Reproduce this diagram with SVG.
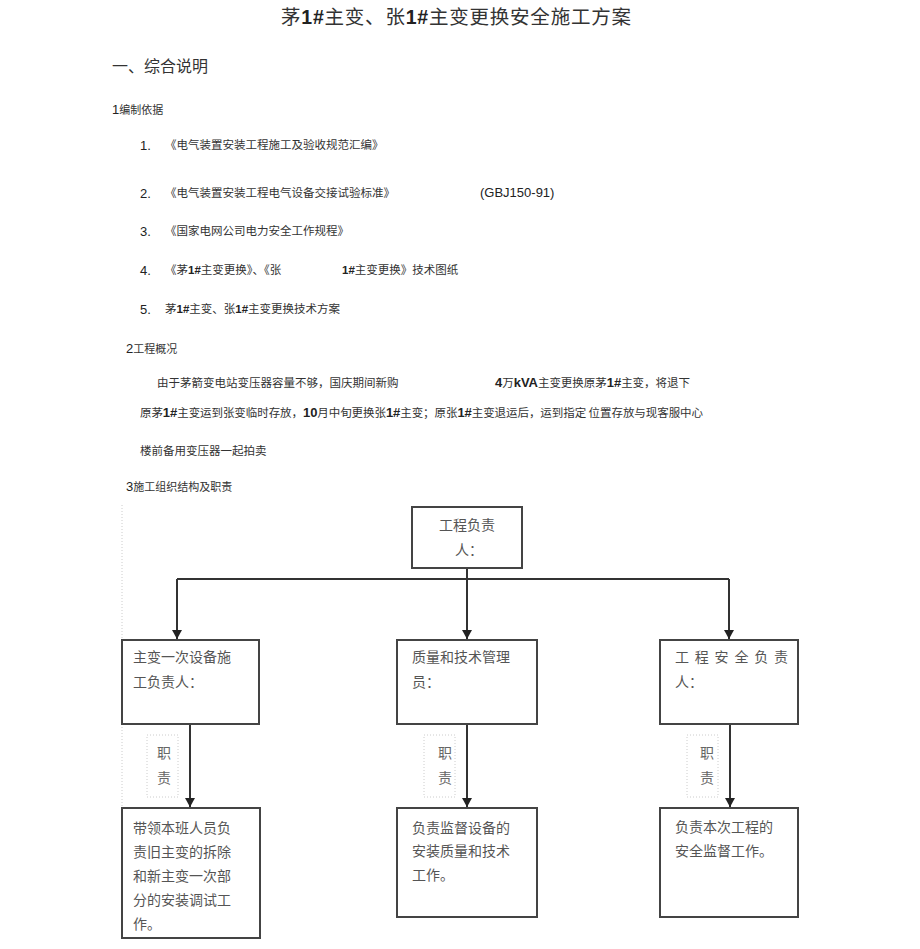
<svg xmlns="http://www.w3.org/2000/svg" width="920" height="949" viewBox="0 0 920 949">
<style>
text{font-family:"Noto Sans CJK SC","Liberation Sans",sans-serif;fill:#333}
.lat{font-family:"Liberation Sans","Noto Sans CJK SC",sans-serif;font-weight:bold;fill:#222}
.body{font-size:11.5px}
.num{font-family:"Liberation Sans",sans-serif;font-size:13px;fill:#222}
.bx{fill:#fff;stroke:#444;stroke-width:2}
.bt{font-size:14px;fill:#555}
.lbl{fill:none;stroke:#ccc;stroke-width:1;stroke-dasharray:1 2}
.lt{font-size:14px;fill:#666}
.conn{stroke:#333;stroke-width:2;fill:none}
</style>
<defs>
<marker id="ah" markerWidth="10" markerHeight="10" refX="9" refY="5" orient="auto" markerUnits="userSpaceOnUse">
<path d="M0,0 L9,5 L0,10 Z" fill="#222"/>
</marker>
</defs>
<rect width="920" height="949" fill="#fff"/>

<g id="header">
<text x="281" y="24" font-size="19.5" fill="#222" textLength="350" lengthAdjust="spacing">茅<tspan class="lat">1#</tspan>主变、张<tspan class="lat">1#</tspan>主变更换安全施工方案</text>
<text x="112" y="72" font-size="16">一、综合说明</text>
<text x="112" y="114" font-size="11"><tspan class="num">1</tspan>编制依据</text>
<text class="num" x="140" y="150">1.</text>
<text class="body" x="165" y="149">《电气装置安装工程施工及验收规范汇编》</text>
<text class="num" x="140" y="198">2.</text>
<text class="body" x="165" y="197">《电气装置安装工程电气设备交接试验标准》</text>
<text class="num" x="480" y="197" font-size="14">(GBJ150-91)</text>
<text class="num" x="140" y="236">3.</text>
<text class="body" x="165" y="235">《国家电网公司电力安全工作规程》</text>
<text class="num" x="140" y="275">4.</text>
<text class="body" x="165" y="274">《茅<tspan class="lat">1#</tspan>主变更换》、《张</text>
<text class="body" x="342" y="274"><tspan class="lat">1#</tspan>主变更换》技术图纸</text>
<text class="num" x="140" y="314">5.</text>
<text class="body" x="165" y="313">茅<tspan class="lat">1#</tspan>主变、张<tspan class="lat">1#</tspan>主变更换技术方案</text>
<text x="126" y="353" font-size="11"><tspan class="num">2</tspan>工程概况</text>
<text class="body" x="157" y="387">由于茅箭变电站变压器容量不够，国庆期间新购</text>
<text class="body" x="495" y="387" textLength="195"><tspan class="lat" font-size="13">4</tspan>万<tspan class="lat" font-size="13">kVA</tspan>主变更换原茅<tspan class="lat" font-size="13">1#</tspan>主变，将退下</text>
<text class="body" x="140" y="417" textLength="563" lengthAdjust="spacing">原茅<tspan class="lat" font-size="13">1#</tspan>主变运到张变临时存放，<tspan class="lat" font-size="13">10</tspan>月中旬更换张<tspan class="lat" font-size="13">1#</tspan>主变；原张<tspan class="lat" font-size="13">1#</tspan>主变退运后，运到指定 位置存放与现客服中心</text>
<text class="body" x="140" y="455">楼前备用变压器一起拍卖</text>
<text x="126" y="491" font-size="11"><tspan class="num">3</tspan>施工组织结构及职责</text>
</g>

<line x1="122" y1="505" x2="122" y2="940" stroke="#ccc" stroke-width="1" stroke-dasharray="1 2"/>

<g id="connectors">
<path class="conn" d="M467,568 V639" marker-end="url(#ah)"/>
<path class="conn" d="M177,579 H729"/>
<path class="conn" d="M177,579 V639" marker-end="url(#ah)"/>
<path class="conn" d="M729,579 V639" marker-end="url(#ah)"/>
<path class="conn" d="M190,724 V807" marker-end="url(#ah)"/>
<path class="conn" d="M467,724 V807" marker-end="url(#ah)"/>
<path class="conn" d="M730,724 V807" marker-end="url(#ah)"/>
</g>

<g id="node-top">
<rect class="bx" x="412" y="507" width="110" height="61"/>
<text class="bt" x="467" y="530" text-anchor="middle">工程负责</text>
<text class="bt" x="469" y="555" text-anchor="middle">人：</text>
</g>

<g id="node-left">
<rect class="bx" x="122" y="640" width="137" height="84"/>
<text class="bt" x="133" y="662">主变一次设备施</text>
<text class="bt" x="133" y="687">工负责人：</text>
</g>

<g id="node-mid">
<rect class="bx" x="397" y="640" width="140" height="84"/>
<text class="bt" x="412" y="662">质量和技术管理</text>
<text class="bt" x="412" y="687">员：</text>
</g>

<g id="node-right">
<rect class="bx" x="660" y="640" width="138" height="84"/>
<text class="bt" x="675" y="662" textLength="113" lengthAdjust="spacing">工程安全负责</text>
<text class="bt" x="675" y="687">人：</text>
</g>

<g id="label-left">
<rect class="lbl" x="147" y="735" width="31" height="62"/>
<text class="lt" x="164" y="758" text-anchor="middle">职</text>
<text class="lt" x="164" y="783" text-anchor="middle">责</text>
</g>
<g id="label-mid">
<rect class="lbl" x="424" y="735" width="31" height="62"/>
<text class="lt" x="445" y="758" text-anchor="middle">职</text>
<text class="lt" x="445" y="783" text-anchor="middle">责</text>
</g>
<g id="label-right">
<rect class="lbl" x="687" y="735" width="31" height="62"/>
<text class="lt" x="707" y="758" text-anchor="middle">职</text>
<text class="lt" x="707" y="783" text-anchor="middle">责</text>
</g>

<g id="duty-left">
<rect class="bx" x="122" y="808" width="138" height="130"/>
<text class="bt" x="133" y="833">带领本班人员负</text>
<text class="bt" x="133" y="857">责旧主变的拆除</text>
<text class="bt" x="133" y="881">和新主变一次部</text>
<text class="bt" x="133" y="905">分的安装调试工</text>
<text class="bt" x="133" y="929">作。</text>
</g>

<g id="duty-mid">
<rect class="bx" x="397" y="808" width="140" height="109"/>
<text class="bt" x="412" y="833">负责监督设备的</text>
<text class="bt" x="412" y="856">安装质量和技术</text>
<text class="bt" x="412" y="880">工作。</text>
</g>

<g id="duty-right">
<rect class="bx" x="660" y="808" width="138" height="109"/>
<text class="bt" x="675" y="832">负责本次工程的</text>
<text class="bt" x="675" y="856">安全监督工作。</text>
</g>
</svg>
